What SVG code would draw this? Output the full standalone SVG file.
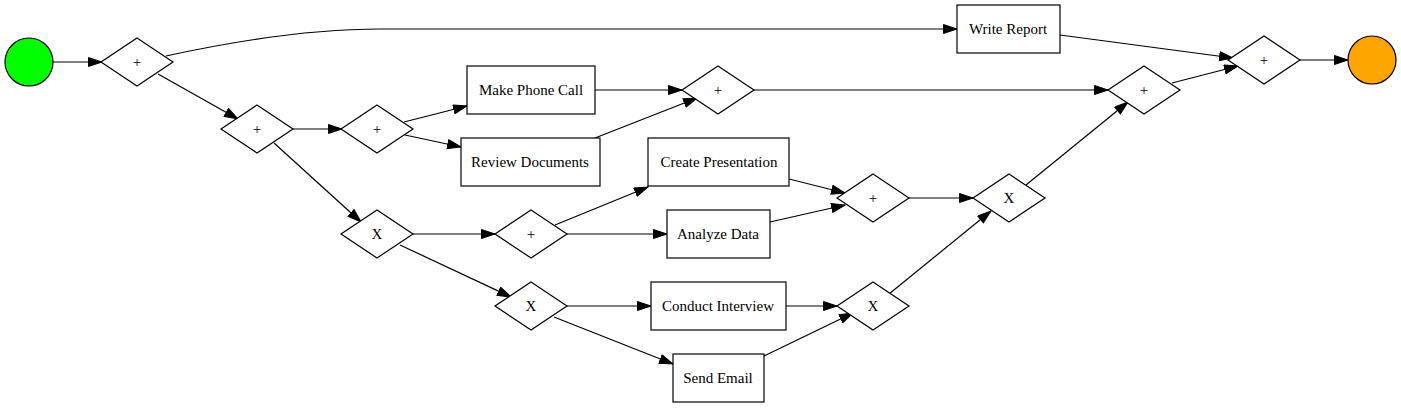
<svg xmlns="http://www.w3.org/2000/svg" width="1401" height="408" viewBox="0 0 1401 408">
<style>
.n{fill:#fff;stroke:#000;stroke-width:1.2}
.t{font-family:"Liberation Serif","Times New Roman",serif;font-size:15px;fill:#000;text-anchor:middle}
.e{fill:none;stroke:#000;stroke-width:1.2;marker-end:url(#a)}
</style>
<defs>
<marker id="a" markerUnits="userSpaceOnUse" markerWidth="15" markerHeight="11" refX="14" refY="5" orient="auto">
<path d="M0.5,0.5 L14,5 L0.5,9.5 z" fill="#000" stroke="#000" stroke-width="1"/>
</marker>
</defs>
<rect width="1401" height="408" fill="#fff"/>
<g id="edges">
<path class="e" d="M53,62 L102,62"/>
<path class="e" d="M166,56 C230,42 310,29 380,29 L957,29"/>
<path class="e" d="M158,74 L238,119"/>
<path class="e" d="M293,129 L342,129"/>
<path class="e" d="M404,122 L467,106"/>
<path class="e" d="M405,135 L461,147"/>
<path class="e" d="M274,143 L361,222"/>
<path class="e" d="M595,90 L682,90"/>
<path class="e" d="M595,138 L697,98"/>
<path class="e" d="M413,234 L495,234"/>
<path class="e" d="M400,245 L511,297"/>
<path class="e" d="M555,225 L648,187"/>
<path class="e" d="M567,234 L667,234"/>
<path class="e" d="M789,179 L845,193"/>
<path class="e" d="M770,222 L845,205"/>
<path class="e" d="M909,198 L973,198"/>
<path class="e" d="M567,306 L651,306"/>
<path class="e" d="M554,317 L673,364"/>
<path class="e" d="M786,306 L837,306"/>
<path class="e" d="M764,356 L853,313"/>
<path class="e" d="M889,294 L991,211"/>
<path class="e" d="M1026,185 L1128,102"/>
<path class="e" d="M754,90 L1108,90"/>
<path class="e" d="M1060,35 L1233,58"/>
<path class="e" d="M1172,83 L1238,66"/>
<path class="e" d="M1300,60 L1348,60"/>
</g>
<g id="start"><circle cx="29" cy="62" r="24" fill="#00ff00" stroke="#000" stroke-width="1.2"/></g>
<g id="g1"><polygon class="n" points="137,38 173,62 137,86 101,62"/><text class="t" x="137" y="67">+</text></g>
<g id="g2"><polygon class="n" points="257,105 293,129 257,153 221,129"/><text class="t" x="257" y="134">+</text></g>
<g id="g3"><polygon class="n" points="377,105 413,129 377,153 341,129"/><text class="t" x="377" y="134">+</text></g>
<g id="x1"><polygon class="n" points="377,210 413,234 377,258 341,234"/><text class="t" x="377" y="239">X</text></g>
<g id="phone"><rect class="n" x="467" y="66" width="128" height="48"/><text class="t" x="531" y="95">Make Phone Call</text></g>
<g id="review"><rect class="n" x="461" y="138" width="139" height="48"/><text class="t" x="530" y="167">Review Documents</text></g>
<g id="g4"><polygon class="n" points="718,66 754,90 718,114 682,90"/><text class="t" x="718" y="95">+</text></g>
<g id="g5"><polygon class="n" points="531,210 567,234 531,258 495,234"/><text class="t" x="531" y="239">+</text></g>
<g id="create"><rect class="n" x="648" y="138" width="141" height="48"/><text class="t" x="719" y="167">Create Presentation</text></g>
<g id="analyze"><rect class="n" x="667" y="210" width="103" height="48"/><text class="t" x="718" y="239">Analyze Data</text></g>
<g id="g6"><polygon class="n" points="873,174 909,198 873,222 837,198"/><text class="t" x="873" y="203">+</text></g>
<g id="x2"><polygon class="n" points="531,282 567,306 531,330 495,306"/><text class="t" x="531" y="311">X</text></g>
<g id="interview"><rect class="n" x="651" y="282" width="135" height="48"/><text class="t" x="718" y="311">Conduct Interview</text></g>
<g id="email"><rect class="n" x="673" y="354" width="91" height="48"/><text class="t" x="718" y="383">Send Email</text></g>
<g id="x3"><polygon class="n" points="873,282 909,306 873,330 837,306"/><text class="t" x="873" y="311">X</text></g>
<g id="x4"><polygon class="n" points="1009,174 1045,198 1009,222 973,198"/><text class="t" x="1009" y="203">X</text></g>
<g id="report"><rect class="n" x="957" y="5" width="103" height="48"/><text class="t" x="1008" y="34">Write Report</text></g>
<g id="g7"><polygon class="n" points="1144,66 1180,90 1144,114 1108,90"/><text class="t" x="1144" y="95">+</text></g>
<g id="g8"><polygon class="n" points="1264,36 1300,60 1264,84 1228,60"/><text class="t" x="1264" y="65">+</text></g>
<g id="end"><circle cx="1372" cy="60" r="24" fill="#ffa500" stroke="#000" stroke-width="1.2"/></g>
</svg>
